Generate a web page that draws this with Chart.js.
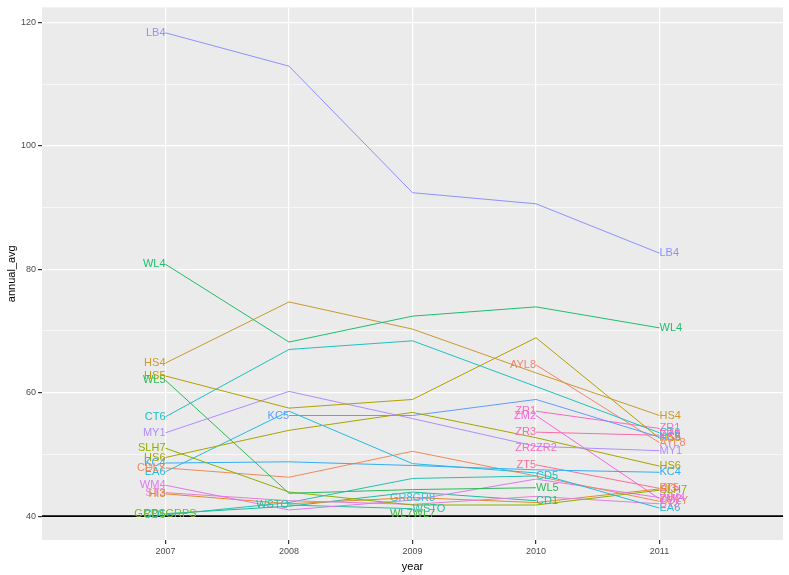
<!DOCTYPE html>
<html>
<head>
<meta charset="utf-8">
<script src="https://cdn.jsdelivr.net/npm/chart.js@4.4.1/dist/chart.umd.min.js"></script>
<style>
  html, body { margin: 0; padding: 0; background: #ffffff; }
  #wrap { width: 789px; height: 575px; }
</style>
</head>
<body>
<div id="wrap"><canvas id="myChart" width="789" height="575"></canvas></div>
<script>
// years on the x axis
const years = [2007, 2008, 2009, 2010, 2011];
const yearTicks = [2007, 2008, 2009, 2010, 2011];
const avgTicks = [40, 50, 60, 70, 80, 90, 100, 110, 120];

// annual averages per site, one value per year (null = no reading)
const LB4  = [118.3, 112.9, 92.4, 90.6, 82.6];
const WL4  = [80.8, 68.2, 72.4, 73.9, 70.5];
const HS4  = [64.8, 74.7, 70.3, 63.2, 56.3];
const HS5  = [62.7, 57.5, 58.9, 68.9, 52.6];
const WL5  = [62.0, 43.7, 44.3, 44.6, null];
const CT6  = [56.1, 67.0, 68.4, 61.0, 53.5];
const MY1  = [53.5, 60.2, 55.8, 51.3, 50.6];
const SLH7 = [51.0, 43.9, 41.8, 41.8, 44.2];
const HS6  = [49.5, 53.9, 56.8, 52.7, 48.1];
const KC4  = [48.6, 48.8, 48.2, 47.5, 47.1];
const EA6  = [47.2, 57.0, 48.5, 47.0, 41.3];
const CDLY = [47.8, 46.3, 50.5, 46.5, 42.4];
const WM4  = [45.0, 41.0, 42.6, 46.0, 43.0];
const ST3  = [43.8, 42.5, 41.9, 43.2, 42.0];
const HI3  = [43.6, 42.0, 43.0, 42.2, 44.4];
const CD1  = [40.4, 41.6, 43.9, 42.5, null];
const CD5  = [40.2, 42.2, 46.1, 46.5, null];
const GRPS = [40.3, null, null, null, null];
const KC5  = [null, 56.3, 56.3, 58.9, 52.8];
const WSTO = [null, 41.8, 41.2, null, null];
const GR8  = [null, null, 43.0, null, null];
const WL7  = [null, null, 40.3, null, null];
const AYL8 = [null, null, null, 64.5, 51.9];
const ZR1  = [null, null, null, 57.0, 54.2];
const ZM2  = [null, null, null, 56.3, 42.8];
const ZR3  = [null, null, null, 53.6, 53.1];
const ZR2  = [null, null, null, 51.1, null];
const ZT5  = [null, null, null, 48.3, 44.5];

const siteNames = ['LB4', 'WL4', 'HS4', 'HS5', 'WL5', 'CT6', 'MY1', 'SLH7', 'HS6', 'KC4',
    'EA6', 'CDLY', 'WM4', 'ST3', 'HI3', 'CD1', 'CD5', 'GRPS', 'KC5', 'WSTO',
    'GR8', 'WL7', 'AYL8', 'ZR1', 'ZM2', 'ZR3', 'ZR2', 'ZT5'];
const siteValues = [LB4, WL4, HS4, HS5, WL5, CT6, MY1, SLH7, HS6, KC4,
    EA6, CDLY, WM4, ST3, HI3, CD1, CD5, GRPS, KC5, WSTO,
    GR8, WL7, AYL8, ZR1, ZM2, ZR3, ZR2, ZT5];

const siteColors = {
    LB4: '#8F91FF', WL4: '#1FBE6E', HS4: '#C99A2E', HS5: '#B5A000', WL5: '#2EBA5A',
    CT6: '#1FC1C1', MY1: '#B18CFF', SLH7: '#8DB000', HS6: '#A8A400', KC4: '#33AEF5',
    EA6: '#22BDE0', CDLY: '#F08A5D', WM4: '#DF78F0', ST3: '#E57FD6', HI3: '#E58A2A',
    CD1: '#1DBF9A', CD5: '#22C2B0', GRPS: '#7FB32A', KC5: '#619CFF', WSTO: '#26BFA6',
    GR8: '#3FB8E8', WL7: '#3DB83A', AYL8: '#F8836D', ZR1: '#FF68C0', ZM2: '#F766DD',
    ZR3: '#FF6AA8', ZR2: '#FF6BBE', ZT5: '#FF6F96'
};

const datasets = siteNames.map((name, i) => {
    const points = [];
    siteValues[i].forEach((v, j) => {
        if (v !== null) points.push({ x: years[j], y: v });
    });
    return {
        label: name,
        data: points,
        borderColor: siteColors[name],
        backgroundColor: siteColors[name],
        borderWidth: 1,
        pointRadius: 0,
        tension: 0,
        fill: false
    };
});

// grey panel behind the plot
const panelBackground = {
    id: 'panelBackground',
    beforeDraw(chart) {
        const { ctx, chartArea } = chart;
        ctx.save();
        ctx.fillStyle = '#EBEBEB';
        ctx.fillRect(chartArea.left, chartArea.top, chartArea.right - chartArea.left, chartArea.bottom - chartArea.top);
        ctx.restore();
    }
};

// black reference line at 40, then site labels at first and last points
const siteLabels = {
    id: 'siteLabels',
    afterDatasetsDraw(chart) {
        const { ctx, chartArea, scales } = chart;
        const y40 = scales.y.getPixelForValue(40);
        ctx.save();
        ctx.strokeStyle = '#000000';
        ctx.lineWidth = 1.6;
        ctx.beginPath();
        ctx.moveTo(chartArea.left, y40);
        ctx.lineTo(chartArea.right, y40);
        ctx.stroke();

        ctx.font = '11px "Liberation Sans", Arial, sans-serif';
        ctx.textBaseline = 'middle';
        chart.data.datasets.forEach((ds, i) => {
            const meta = chart.getDatasetMeta(i);
            if (!meta.data.length) return;
            const first = meta.data[0];
            const last = meta.data[meta.data.length - 1];
            ctx.fillStyle = ds.borderColor;
            ctx.textAlign = 'right';
            ctx.fillText(ds.label, first.x, first.y);
            ctx.textAlign = 'left';
            ctx.fillText(ds.label, last.x, last.y);
        });
        ctx.restore();
    }
};

new Chart(document.getElementById('myChart').getContext('2d'), {
    type: 'line',
    data: { datasets: datasets },
    plugins: [panelBackground, siteLabels],
    options: {
        responsive: false,
        animation: false,
        layout: { padding: { top: 5, right: 6, left: 0, bottom: 0 } },
        plugins: {
            legend: { display: false },
            tooltip: { enabled: false }
        },
        scales: {
            x: {
                type: 'linear',
                min: 2006,
                max: 2012,
                afterBuildTicks: (scale) => { scale.ticks = yearTicks.map(v => ({ value: v })); },
                afterFit: (scale) => { scale.height = 35; },
                border: { display: false },
                grid: {
                    color: '#FFFFFF',
                    lineWidth: 1.2,
                    tickColor: '#333333',
                    tickLength: 4,
                    drawTicks: true
                },
                ticks: {
                    color: '#4D4D4D',
                    padding: 2,
                    maxRotation: 0,
                    font: { family: '"Liberation Sans", Arial, sans-serif', size: 9 },
                    callback: (v) => String(v)
                },
                title: {
                    display: true,
                    text: 'year',
                    color: '#000000',
                    padding: { top: 0, bottom: 1 },
                    font: { family: '"Liberation Sans", Arial, sans-serif', size: 11 }
                }
            },
            y: {
                type: 'linear',
                min: 36.13,
                max: 122.42,
                afterBuildTicks: (scale) => { scale.ticks = avgTicks.map(v => ({ value: v })); },
                afterFit: (scale) => { scale.width = 42; },
                border: { display: false },
                grid: {
                    color: '#FFFFFF',
                    lineWidth: (c) => (c.tick && c.tick.value % 20 === 0 ? 1.2 : 0.6),
                    tickColor: (c) => (c.tick && c.tick.value % 20 === 0 ? '#333333' : 'rgba(0,0,0,0)'),
                    tickLength: 4
                },
                ticks: {
                    color: '#4D4D4D',
                    padding: 2,
                    font: { family: '"Liberation Sans", Arial, sans-serif', size: 9 },
                    callback: (v) => (v % 20 === 0 ? String(v) : '')
                },
                title: {
                    display: true,
                    text: 'annual_avg',
                    color: '#000000',
                    padding: { top: 5, bottom: 2 },
                    font: { family: '"Liberation Sans", Arial, sans-serif', size: 11 }
                }
            }
        }
    }
});
</script>
</body>
</html>
